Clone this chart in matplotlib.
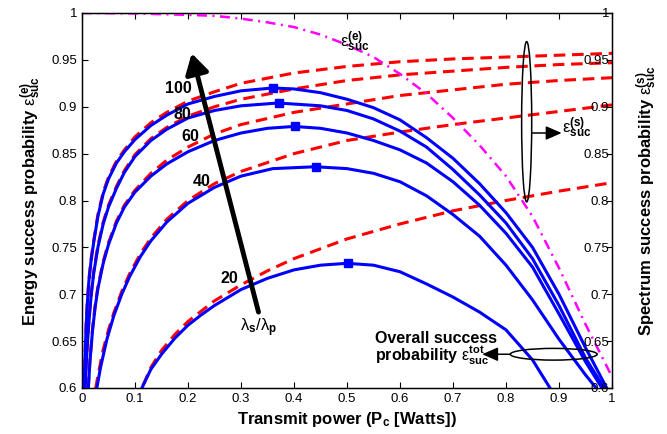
import numpy as np
import matplotlib
matplotlib.use("Agg")
import matplotlib.pyplot as plt
from matplotlib.patches import Ellipse
from matplotlib.ticker import FormatStrFormatter

plt.rcParams["font.family"] = ["Liberation Sans", "DejaVu Sans"]
plt.rcParams["mathtext.fontset"] = "custom"
plt.rcParams["mathtext.rm"] = "Liberation Sans"
plt.rcParams["mathtext.it"] = "Liberation Sans:italic"
plt.rcParams["mathtext.bf"] = "Liberation Sans:bold"

# ratios lambda_s / lambda_p
ratios = [20, 40, 60, 80, 100]

# energy success probability (magenta dash-dot)
x_energy = [0, 0.1, 0.2, 0.25, 0.3, 0.35, 0.4, 0.45, 0.5, 0.55, 0.6, 0.65,
            0.7, 0.75, 0.8, 0.85, 0.9, 0.95, 1.0]
y_energy = [1.0, 0.9995, 0.998, 0.997, 0.994, 0.99, 0.985, 0.977, 0.966,
            0.953, 0.935, 0.914, 0.888, 0.859, 0.826, 0.783, 0.728, 0.668, 0.612]

# spectrum success probability (red dashed), one per ratio
x_spec_20 = [0.1, 0.113, 0.13, 0.15, 0.175, 0.2, 0.25, 0.3, 0.35, 0.4, 0.5,
             0.6, 0.7, 0.8, 0.9, 1.0]
y_spec_20 = [0.585, 0.60, 0.622, 0.64, 0.657, 0.671, 0.693, 0.71, 0.725,
             0.738, 0.759, 0.775, 0.789, 0.80, 0.81, 0.819]
x_spec_40 = [0.022, 0.026, 0.03, 0.04, 0.05, 0.06, 0.075, 0.09, 0.11, 0.13,
             0.16, 0.2, 0.25, 0.3, 0.4, 0.5, 0.6, 0.7, 0.8, 0.9, 1.0]
y_spec_40 = [0.58, 0.60, 0.613, 0.641, 0.662, 0.68, 0.703, 0.722, 0.743, 0.76,
             0.78, 0.80, 0.818, 0.831, 0.85, 0.864, 0.873, 0.881, 0.888, 0.895,
             0.902]
x_spec_60 = [0.01, 0.012, 0.015, 0.02, 0.025, 0.03, 0.04, 0.05, 0.065, 0.08,
             0.1, 0.13, 0.16, 0.2, 0.25, 0.3, 0.4, 0.5, 0.6, 0.7, 0.8, 0.9, 1.0]
y_spec_60 = [0.58, 0.602, 0.63, 0.664, 0.689, 0.708, 0.735, 0.755, 0.778,
             0.795, 0.811, 0.829, 0.843, 0.857, 0.871, 0.881, 0.894, 0.903,
             0.912, 0.918, 0.924, 0.928, 0.931]
x_spec_80 = [0.005, 0.006, 0.008, 0.01, 0.013, 0.017, 0.022, 0.03, 0.04, 0.05,
             0.065, 0.08, 0.1, 0.13, 0.16, 0.2, 0.25, 0.3, 0.4, 0.5, 0.6, 0.7,
             0.8, 0.9, 1.0]
y_spec_80 = [0.58, 0.602, 0.627, 0.647, 0.672, 0.699, 0.724, 0.752, 0.777,
             0.795, 0.815, 0.832, 0.849, 0.866, 0.878, 0.89, 0.90, 0.908,
             0.919, 0.928, 0.934, 0.938, 0.942, 0.945, 0.947]
x_spec_100 = [0.003, 0.004, 0.006, 0.008, 0.01, 0.013, 0.017, 0.022, 0.03,
              0.04, 0.05, 0.065, 0.08, 0.1, 0.13, 0.16, 0.2, 0.25, 0.3, 0.4,
              0.5, 0.6, 0.7, 0.8, 0.9, 1.0]
y_spec_100 = [0.58, 0.602, 0.64, 0.67, 0.692, 0.716, 0.737, 0.757, 0.785,
              0.809, 0.825, 0.842, 0.854, 0.868, 0.883, 0.894, 0.906, 0.916,
              0.925, 0.936, 0.943, 0.948, 0.951, 0.953, 0.955, 0.957]

# overall success probability (blue solid), one per ratio
x_tot_20 = [0.105, 0.113, 0.13, 0.15, 0.175, 0.2, 0.225, 0.25, 0.3, 0.35,
            0.4, 0.45, 0.5, 0.55, 0.6, 0.65, 0.7, 0.75, 0.8, 0.85, 0.883, 0.9]
y_tot_20 = [0.59, 0.60, 0.62, 0.636, 0.653, 0.667, 0.678, 0.688, 0.705,
            0.717, 0.726, 0.731, 0.733, 0.731, 0.724, 0.711, 0.697, 0.681,
            0.662, 0.63, 0.60, 0.583]
x_tot_40 = [0.024, 0.028, 0.035, 0.047, 0.06, 0.075, 0.09, 0.11, 0.13, 0.16,
            0.2, 0.25, 0.3, 0.36, 0.44, 0.5, 0.55, 0.6, 0.65, 0.7, 0.75, 0.8,
            0.85, 0.9, 0.95, 0.97, 1.0]
y_tot_40 = [0.585, 0.60, 0.622, 0.652, 0.677, 0.70, 0.719, 0.74, 0.757, 0.777,
            0.797, 0.814, 0.826, 0.834, 0.836, 0.834, 0.829, 0.82, 0.805,
            0.785, 0.762, 0.731, 0.694, 0.652, 0.614, 0.60, 0.575]
x_tot_60 = [0.01, 0.012, 0.015, 0.02, 0.025, 0.03, 0.04, 0.05, 0.065, 0.08,
            0.1, 0.13, 0.16, 0.2, 0.25, 0.3, 0.35, 0.4, 0.45, 0.5, 0.55, 0.6,
            0.65, 0.7, 0.75, 0.8, 0.85, 0.9, 0.95, 0.981, 1.0]
y_tot_60 = [0.58, 0.60, 0.628, 0.662, 0.687, 0.706, 0.733, 0.753, 0.776,
            0.793, 0.809, 0.826, 0.839, 0.852, 0.864, 0.872, 0.877, 0.879,
            0.877, 0.872, 0.864, 0.854, 0.84, 0.82, 0.795, 0.765, 0.729, 0.679,
            0.628, 0.60, 0.582]
x_tot_80 = [0.005, 0.006, 0.008, 0.01, 0.013, 0.017, 0.022, 0.03, 0.04, 0.05,
            0.065, 0.08, 0.1, 0.13, 0.16, 0.2, 0.25, 0.3, 0.37, 0.45, 0.5,
            0.55, 0.6, 0.65, 0.7, 0.75, 0.8, 0.85, 0.9, 0.95, 0.985, 1.0]
y_tot_80 = [0.58, 0.60, 0.625, 0.645, 0.67, 0.697, 0.722, 0.75, 0.775, 0.793,
            0.813, 0.83, 0.847, 0.864, 0.876, 0.888, 0.896, 0.901, 0.904,
            0.901, 0.896, 0.887, 0.874, 0.857, 0.833, 0.806, 0.776, 0.738,
            0.688, 0.632, 0.60, 0.58]
x_tot_100 = [0.003, 0.004, 0.006, 0.008, 0.01, 0.013, 0.017, 0.022, 0.03,
             0.04, 0.05, 0.065, 0.08, 0.1, 0.13, 0.16, 0.2, 0.25, 0.3, 0.36,
             0.4, 0.45, 0.5, 0.55, 0.6, 0.65, 0.7, 0.75, 0.8, 0.85, 0.9, 0.95,
             0.99, 1.0]
y_tot_100 = [0.58, 0.60, 0.638, 0.668, 0.69, 0.714, 0.735, 0.755, 0.783,
             0.807, 0.823, 0.84, 0.852, 0.865, 0.88, 0.891, 0.903, 0.911, 0.917,
             0.92, 0.919, 0.915, 0.908, 0.899, 0.886, 0.867, 0.845, 0.818,
             0.787, 0.75, 0.70, 0.643, 0.60, 0.588]

# optimum points (blue squares)
peak_x = [0.502, 0.441, 0.402, 0.372, 0.361]
peak_y = [0.733, 0.836, 0.879, 0.904, 0.92]

spec_curves = [(x_spec_20, y_spec_20), (x_spec_40, y_spec_40),
               (x_spec_60, y_spec_60), (x_spec_80, y_spec_80),
               (x_spec_100, y_spec_100)]
tot_curves = [(x_tot_20, y_tot_20), (x_tot_40, y_tot_40),
              (x_tot_60, y_tot_60), (x_tot_80, y_tot_80),
              (x_tot_100, y_tot_100)]

fig = plt.figure(figsize=(6.67, 4.34), dpi=100)
ax = fig.add_axes([82 / 667, 1 - 388 / 434, 530 / 667, 375 / 434])

for xs, ys in spec_curves:
    ax.plot(xs, ys, color="red", lw=2.2, ls=(0, (3.8, 2.2)), zorder=2)
for xs, ys in tot_curves:
    ax.plot(xs, ys, color="blue", lw=2.2, zorder=3, solid_joinstyle="round")
ax.plot(peak_x, peak_y, "s", color="blue", ms=6, zorder=4)
ax.plot(x_energy, y_energy, color="magenta", lw=1.8,
        ls=(0, (4, 2.2, 0.8, 2.2)), zorder=3)

ax.set_xlim(0, 1)
ax.set_ylim(0.6, 1)
ax.set_xticks(np.arange(0, 1.01, 0.1))
ax.set_yticks(np.arange(0.6, 1.001, 0.05))
ax.xaxis.set_major_formatter(FormatStrFormatter("%g"))
ax.yaxis.set_major_formatter(FormatStrFormatter("%g"))
ax.tick_params(direction="in", length=4, labelsize=9.5, top=True, width=0.8)
for s in ax.spines.values():
    s.set_linewidth(1.0)

ax2 = ax.twinx()
ax2.set_ylim(0.6, 1)
ax2.set_yticks(np.arange(0.6, 1.001, 0.05))
ax2.yaxis.set_major_formatter(FormatStrFormatter("%g"))
ax2.tick_params(direction="in", length=4, labelsize=9.5, pad=-2, width=0.8)
plt.setp(ax2.get_yticklabels(), ha="right")

ax.set_xlabel(r"Transmit power (P$_{\mathbf{c}}$ [Watts])", fontsize=12,
              fontweight="bold", labelpad=4)
ax.set_ylabel(r"Energy success probability $\mathrm{\varepsilon}^{\mathbf{(e)}}_{\mathbf{suc}}$",
              fontsize=12, fontweight="bold", labelpad=6)
ax2.set_ylabel(r"Spectrum success probability $\mathrm{\varepsilon}^{\mathbf{(s)}}_{\mathbf{suc}}$",
               fontsize=12, fontweight="bold", labelpad=16)

# ratio labels
label_pos = [(0.279, 0.717), (0.226, 0.82), (0.204, 0.868), (0.19, 0.892),
             (0.182, 0.919)]
for r, (lx, ly) in zip(ratios, label_pos):
    ax.text(lx, ly, str(r), fontsize=11.5, fontweight="bold",
            ha="center", va="center")

ax.annotate("", xy=(0.207, 0.957), xytext=(0.333, 0.681),
            arrowprops=dict(arrowstyle="-|>,head_length=0.6,head_width=0.35",
                            lw=3.5, color="black", mutation_scale=20,
                            shrinkA=0, shrinkB=0), zorder=5)
ax.text(0.333, 0.664, r"$\mathrm{\lambda}_{\mathbf{s}}\mathrm{/}\mathrm{\lambda}_{\mathbf{p}}$",
        fontsize=12, ha="center", va="center")

ax.text(0.515, 0.969, r"$\mathrm{\varepsilon}^{\mathbf{(e)}}_{\mathbf{suc}}$",
        fontsize=12, ha="center", va="center")

# spectrum group ellipse + label
ax.add_patch(Ellipse((0.839, 0.884), 0.019, 0.171, fill=False, lw=1.1,
                     color="black", zorder=5))
ax.annotate("", xy=(0.905, 0.872), xytext=(0.849, 0.872),
            arrowprops=dict(arrowstyle="-|>,head_length=0.8,head_width=0.35",
                            lw=1.1, color="black", mutation_scale=12,
                            shrinkA=0, shrinkB=0))
ax.text(0.905, 0.878, r"$\mathrm{\varepsilon}^{\mathbf{(s)}}_{\mathbf{suc}}$",
        fontsize=12, ha="left", va="center")

# overall group ellipse + label
ax.add_patch(Ellipse((0.89, 0.636), 0.164, 0.0125, fill=False, lw=1.1,
                     color="black", zorder=5))
ax.annotate("", xy=(0.755, 0.636), xytext=(0.808, 0.636),
            arrowprops=dict(arrowstyle="-|>,head_length=0.8,head_width=0.35",
                            lw=1.1, color="black", mutation_scale=12,
                            shrinkA=0, shrinkB=0))
ax.text(0.552, 0.653, "Overall success", fontsize=11.5, fontweight="bold",
        ha="left", va="center")
ax.text(0.552, 0.634, r"probability $\mathrm{\varepsilon}^{\mathbf{tot}}_{\mathbf{suc}}$",
        fontsize=11.5, fontweight="bold", ha="left", va="center")

fig.savefig("out.png", dpi=100)
